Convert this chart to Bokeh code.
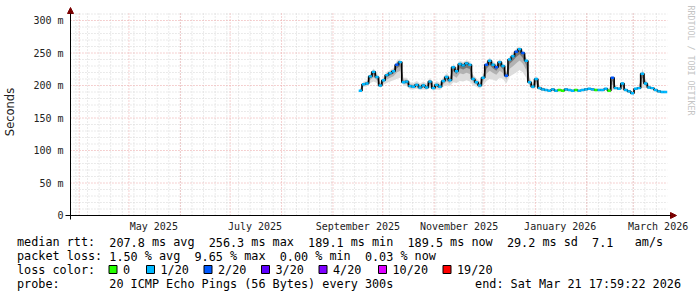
import re
from math import pi
import pandas as pd
from bokeh.plotting import figure
from bokeh.layouts import column
from bokeh.core.properties import value
from bokeh.models import (Range1d, FixedTicker, Label, ColumnDataSource, Arrow, NormalHead)
from bokeh.embed import file_html
from bokeh.resources import INLINE

# ---------------- data ----------------
graph_end = "2026-03-21 17:59:22"
graph_days = 360
first_sample = "2025-09-17 12:00"
sample_step = "2D"

median_ms = [192, 202, 203, 214, 221, 213, 200, 208, 216, 219,
             222, 232, 236, 205, 206, 199, 198, 201, 197, 200,
             197, 206, 196, 201, 198, 207, 213, 208, 228, 222,
             233, 231, 234, 232, 210, 205, 200, 212, 232, 238,
             232, 228, 236, 230, 215, 240, 245, 252, 256, 250,
             238, 205, 198, 210, 196, 194, 193, 192, 194, 192,
             193, 192, 194, 193, 192, 193, 192, 193, 194, 195,
             194, 193, 193, 193, 195, 192, 212, 196, 195, 203,
             193, 191, 188, 195, 196, 218, 203, 197, 196, 193,
             191, 190, 190]
smoke_hi_ms = [196, 206, 207, 219, 226, 219, 206, 213, 221, 224,
               227, 238, 241, 212, 212, 205, 204, 207, 203, 206,
               203, 212, 202, 207, 204, 213, 219, 214, 233, 228,
               238, 236, 239, 237, 216, 211, 206, 218, 237, 243,
               237, 233, 241, 235, 221, 245, 250, 257, 260, 255,
               244, 212, 204, 215, 200, 197, 195, 194, 196, 194,
               195, 194, 196, 195, 194, 195, 194, 195, 196, 197,
               196, 195, 195, 195, 197, 194, 215, 199, 197, 206,
               195, 193, 191, 197, 199, 226, 210, 200, 198, 195,
               193, 192, 192]
smoke_lo_ms = [189, 198, 199, 204, 206, 204, 196, 201, 204, 206,
               208, 210, 212, 200, 199, 194, 194, 195, 193, 194,
               193, 197, 192, 194, 193, 198, 201, 199, 205, 204,
               207, 206, 208, 206, 200, 198, 195, 200, 207, 210,
               209, 207, 212, 210, 203, 214, 217, 220, 224, 220,
               212, 198, 194, 197, 193, 192, 191, 190, 192, 190,
               191, 190, 192, 191, 190, 191, 190, 191, 192, 193,
               192, 191, 191, 191, 193, 190, 193, 194, 193, 194,
               191, 189, 186, 193, 194, 196, 196, 195, 194, 191,
               189, 188, 188]
loss_level = [1, 1, 1, 1, 1, 1, 1, 1, 1, 1,
              1, 2, 1, 1, 1, 1, 1, 1, 1, 1,
              1, 1, 1, 1, 1, 1, 1, 1, 1, 1,
              1, 1, 1, 1, 1, 1, 1, 1, 2, 1,
              1, 2, 1, 1, 2, 1, 1, 2, 1, 2,
              1, 1, 1, 1, 1, 1, 1, 1, 1, 1,
              0, 0, 1, 1, 1, 0, 1, 1, 1, 1,
              1, 0, 1, 1, 1, 0, 2, 1, 1, 1,
              1, 1, 1, 1, 1, 1, 1, 1, 1, 1,
              1, 1, 1]

loss_colors = ["#26ff00", "#00b8ff", "#0059ff", "#5e00ff", "#7e00ff", "#dd00ff", "#ff0000"]
loss_labels = ["0", "1/20", "2/20", "3/20", "4/20", "10/20", "19/20"]

y_ticks = [0, 50, 100, 150, 200, 250, 300]
y_tick_labels = ["0", "50 m", "100 m", "150 m", "200 m", "250 m", "300 m"]
x_label_dates = ["2025-05-16", "2025-07-16", "2025-09-16", "2025-11-16", "2026-01-16", "2026-03-16"]
x_labels = ["May 2025", "July 2025", "September 2025", "November 2025", "January 2026", "March 2026"]

y_axis_title = "Seconds"
line_median = "median rtt:  207.8 ms avg  256.3 ms max  189.1 ms min  189.5 ms now  29.2 ms sd  7.1   am/s"
line_loss = "packet loss: 1.50 % avg  9.65 % max  0.00 % min  0.03 % now"
line_color_title = "loss color:"
line_probe = "probe:       20 ICMP Echo Pings (56 Bytes) every 300s"
line_end = "end: Sat Mar 21 17:59:22 2026"
watermark = "RRDTOOL / TOBI OETIKER"

# ---------------- geometry (canvas pixels) ----------------
W, H = 697, 297
H1 = 234                     # main figure height, legend figure below
GL, GR, GT, GB = 67, 667, 13, 215   # rrdtool graph area
FL, FT, FB = 61, 3, 220             # bokeh frame (wider so axis arrows fit)
PX_PER_MS = 0.65

end_t = pd.Timestamp(graph_end)
start_t = end_t - pd.Timedelta(days=graph_days)
ms_per_px = (end_t - start_t) / (GR - GL)

def ms(d):
    return pd.Timestamp(d).value / 1e6

x0 = start_t - ms_per_px * (GL - FL)
x1 = end_t + ms_per_px * (W - GR)
y_lo = -(FB - GB) / PX_PER_MS
y_hi = (GB - FT) / PX_PER_MS
y_graph_top = (GB - GT) / PX_PER_MS

t = pd.date_range(first_sample, periods=len(median_ms), freq=sample_step)
half = pd.Timedelta(sample_step) / 2

p = figure(width=W, height=H1, x_axis_type="datetime",
           x_range=Range1d(ms(x0), ms(x1)), y_range=Range1d(y_lo, y_hi),
           output_backend="svg", toolbar_location=None, frame_align=False,
           min_border_left=FL, min_border_right=0, min_border_top=FT,
           min_border_bottom=H1 - FB)
p.outline_line_color = None
p.background_fill_color = "white"
p.border_fill_color = "white"
p.xgrid.visible = False
p.ygrid.visible = False

# grid lines (rrdtool style, only inside the graph area)
weekly = list(pd.date_range("2025-03-30", "2026-03-21", freq="W-SUN"))
monthly = list(pd.date_range("2025-04-01", "2026-03-21", freq="MS"))
minor_y = [v for v in range(10, 311, 10) if v % 50]
GRID_C = "#d6d6d6"
MGRID_C = "#eba3a3"
p.segment(x0=weekly, x1=weekly, y0=[0] * len(weekly), y1=[y_graph_top] * len(weekly),
          line_color=GRID_C, line_width=1, line_dash="1 2")
p.segment(x0=[start_t] * len(minor_y), x1=[end_t] * len(minor_y), y0=minor_y, y1=minor_y,
          line_color=GRID_C, line_width=1, line_dash="1 2")
p.segment(x0=monthly, x1=monthly, y0=[0] * len(monthly), y1=[y_graph_top] * len(monthly),
          line_color=MGRID_C, line_width=1, line_dash="1 2")
p.segment(x0=[start_t] * 6, x1=[end_t] * 6, y0=y_ticks[1:], y1=y_ticks[1:],
          line_color=MGRID_C, line_width=1, line_dash="1 2")

# axes (labels only; axis lines drawn as arrows)
p.xaxis.ticker = FixedTicker(ticks=[ms(d) for d in x_label_dates])
p.xaxis.major_label_overrides = {ms(d): lab for d, lab in zip(x_label_dates, x_labels)}
p.xaxis.major_label_standoff = 0
p.yaxis.ticker = FixedTicker(ticks=y_ticks)
p.yaxis.major_label_overrides = {v: lab for v, lab in zip(y_ticks, y_tick_labels)}
p.yaxis.major_label_standoff = 1
p.yaxis.axis_label = y_axis_title
p.yaxis.axis_label_standoff = 13
p.yaxis.axis_label_text_font = "DejaVu Sans"
p.yaxis.axis_label_text_font_size = "11.5px"
p.yaxis.axis_label_text_font_style = "normal"
p.yaxis.axis_label_text_color = "#222222"
for ax in (p.xaxis, p.yaxis):
    ax.axis_line_color = None
    ax.major_tick_line_color = None
    ax.minor_tick_line_color = None
    ax.major_tick_out = 0
    ax.major_tick_in = 0
    ax.major_label_text_font = "DejaVu Sans Mono"
    ax.major_label_text_font_size = "10px"
    ax.major_label_text_color = "#222222"

# smoke
med = pd.Series(median_ms, dtype=float)
hi = pd.Series(smoke_hi_ms, dtype=float)
lo = pd.Series(smoke_lo_ms, dtype=float)
p.varea(x=t, y1=lo, y2=hi, fill_color="#dcdcdc")
p.varea(x=t, y1=med - (med - lo) * 0.55, y2=med + (hi - med) * 0.55, fill_color="#b2b2b2")
p.varea(x=t, y1=med - (med - lo) * 0.25, y2=med + (hi - med) * 0.25, fill_color="#777777")

# median: black connecting line + loss-coloured segments
p.step(x=t, y=med, mode="center", line_color="black", line_width=1.6)
seg = ColumnDataSource(dict(x0=t - half, x1=t + half, y=median_ms,
                            c=[loss_colors[k] for k in loss_level]))
p.segment(x0="x0", y0="y", x1="x1", y1="y", line_color="c", line_width=2.4, source=seg)

# axis lines with arrows (screen units relative to frame)
def sx(cx):
    return cx - FL

def sy(cy):
    return FB - cy

head_c = "#7a0000"
p.add_layout(Arrow(end=NormalHead(size=6, fill_color=head_c, line_color=head_c),
                   x_start=sx(62), y_start=sy(GB), x_end=sx(673), y_end=sy(GB),
                   start_units="screen", end_units="screen", line_color="black", line_width=1))
p.add_layout(Arrow(end=NormalHead(size=6, fill_color=head_c, line_color=head_c),
                   x_start=sx(GL), y_start=sy(219), x_end=sx(GL), y_end=sy(7),
                   start_units="screen", end_units="screen", line_color="black", line_width=1))

p.add_layout(Label(x=sx(687.5), y=sy(5), x_units="screen", y_units="screen", text=watermark,
                   angle=-pi / 2, text_align="left", text_baseline="middle",
                   text_font="DejaVu Sans Mono", text_font_size="8.3px", text_color="#c4c4c4"))

# ---------------- legend block (canvas-pixel coordinates) ----------------
q = figure(width=W, height=H - H1, x_range=Range1d(0, W), y_range=Range1d(H, H1),
           output_backend="svg", toolbar_location=None, frame_align=False,
           x_axis_location=None, y_axis_location=None,
           min_border_left=0, min_border_right=0, min_border_top=0, min_border_bottom=0)
q.outline_line_color = None
q.xgrid.visible = False
q.ygrid.visible = False
q.background_fill_color = "white"
q.border_fill_color = "white"

CW = 7.1
X0 = 16.5
rows_y = [241.5, 255.5, 269.0, 283.3]
tx, ty, tt = [], [], []

def put_line(s, row, col0_x=X0):
    for m in re.finditer(r"\S+", s):
        tx.append(col0_x + m.start() * CW)
        ty.append(rows_y[row])
        tt.append(m.group())

put_line(line_median, 0)
put_line(line_loss, 1)
put_line(line_color_title, 2)
put_line(line_probe, 3)
put_line(line_end, 3, 680.5 - len(line_end) * CW)

box_x = [108.5, 146.0, 203.5, 261.0, 318.5, 378.0, 442.5]
q.quad(left=box_x, right=[b + 8 for b in box_x], top=[265] * 7, bottom=[273] * 7,
       fill_color=loss_colors, line_color="black", line_width=1)
for bx, lab in zip(box_x, loss_labels):
    tx.append(bx + 14)
    ty.append(rows_y[2])
    tt.append(lab)

q.text(x=tx, y=ty, text=tt, text_font=value("DejaVu Sans Mono"),
       text_font_size=value("11.8px"), text_baseline="middle", text_align="left",
       text_color="black")

layout = column(p, q, spacing=0)
open("out.html", "w").write(file_html(layout, INLINE))
